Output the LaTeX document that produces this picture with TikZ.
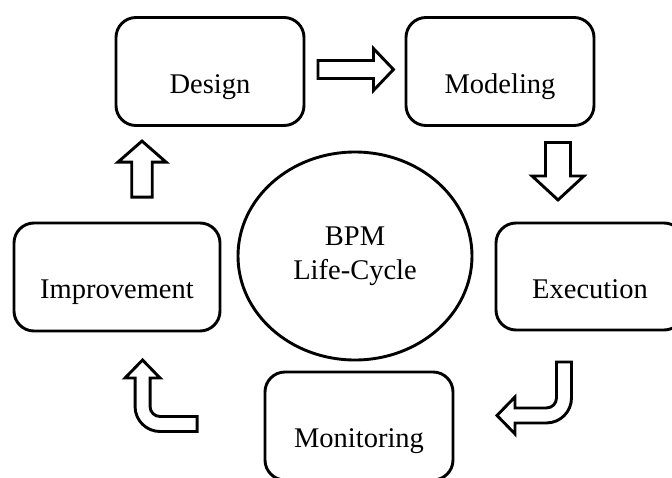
\documentclass[tikz,border=0pt]{standalone}
\usepackage{fontspec}
\setmainfont{Liberation Serif}
\usetikzlibrary{
    positioning,           % Relative positioning
    shapes.geometric,      % Ellipse
    calc                   % Coordinate calculations
}
\tikzset{
    stage/.style={draw, line width=2.9pt, rounded corners=20pt, minimum width=188pt, minimum height=108pt,
        inner sep=0pt, text height=53pt, text depth=10pt, font=\fontsize{28.5}{33}\selectfont},
    hub/.style={draw, ellipse, line width=2.9pt, minimum width=234pt, minimum height=208pt,
        inner sep=0pt, align=center, font=\fontsize{28.5}{34}\selectfont},
    blockline/.style={draw, line width=2.9pt, line join=miter, fill=white},
    pics/fatarrow/.style n args={4}{code={
        \draw[blockline] (0,-#3) -- ++(#1,0) -- ++(0,#3-#4) -- ++(#2,#4) -- ++(-#2,#4) -- ++(0,#3-#4) -- ++(-#1,0) -- cycle;
    }}
}
\begin{document}
\begin{tikzpicture}[x=1pt,y=-1pt]
    \useasboundingbox (0,0) rectangle (672,477);
    \clip (0,0) rectangle (672,477);

    \node[stage] (design) at (210,71.5) {Design};
    \node[stage] (modeling) at (500,71.5) {Modeling};
    \node[stage, minimum height=107pt] (execution) at (590,276.5) {Execution};
    \node[stage] (monitoring) at (359,426) {Monitoring};
    \node[stage, minimum width=206pt] (improvement) at (117,277) {Improvement};
    \node[hub] (bpm) at (355,256) {BPM\\Life-Cycle};

    \pic at ([xshift=12.5pt,yshift=2pt]design.east) {fatarrow={55.5}{20}{9}{21}};
    \pic[rotate=-90] at ([xshift=58pt,yshift=-15.5pt]modeling.south) {fatarrow={33.5}{24}{12.5}{26}};
    \pic[rotate=90] at ([xshift=25pt,yshift=24.5pt]improvement.north) {fatarrow={35}{21}{10.25}{24}};

    \draw[blockline] ([xshift=-33.5pt,yshift=-30.5pt]execution.south) -- ++(15,0) -- ++(0,36)
        arc (0:90:25) -- ++(-31.5,0) -- ++(0,11) -- ++(-18,-18.5) -- ++(18,-18.5) -- ++(0,11)
        -- ++(31.5,0) arc (90:0:10) -- cycle;
    \draw[blockline] ([xshift=-66.5pt,yshift=9.5pt]monitoring.west) -- ++(-37,0)
        arc (90:180:10) -- ++(0,-28.5) -- ++(10,0) -- ++(-17.5,-18) -- ++(-17.5,18) -- ++(10,0)
        -- ++(0,28.5) arc (180:90:25) -- ++(37,0) -- cycle;
\end{tikzpicture}
\end{document}
